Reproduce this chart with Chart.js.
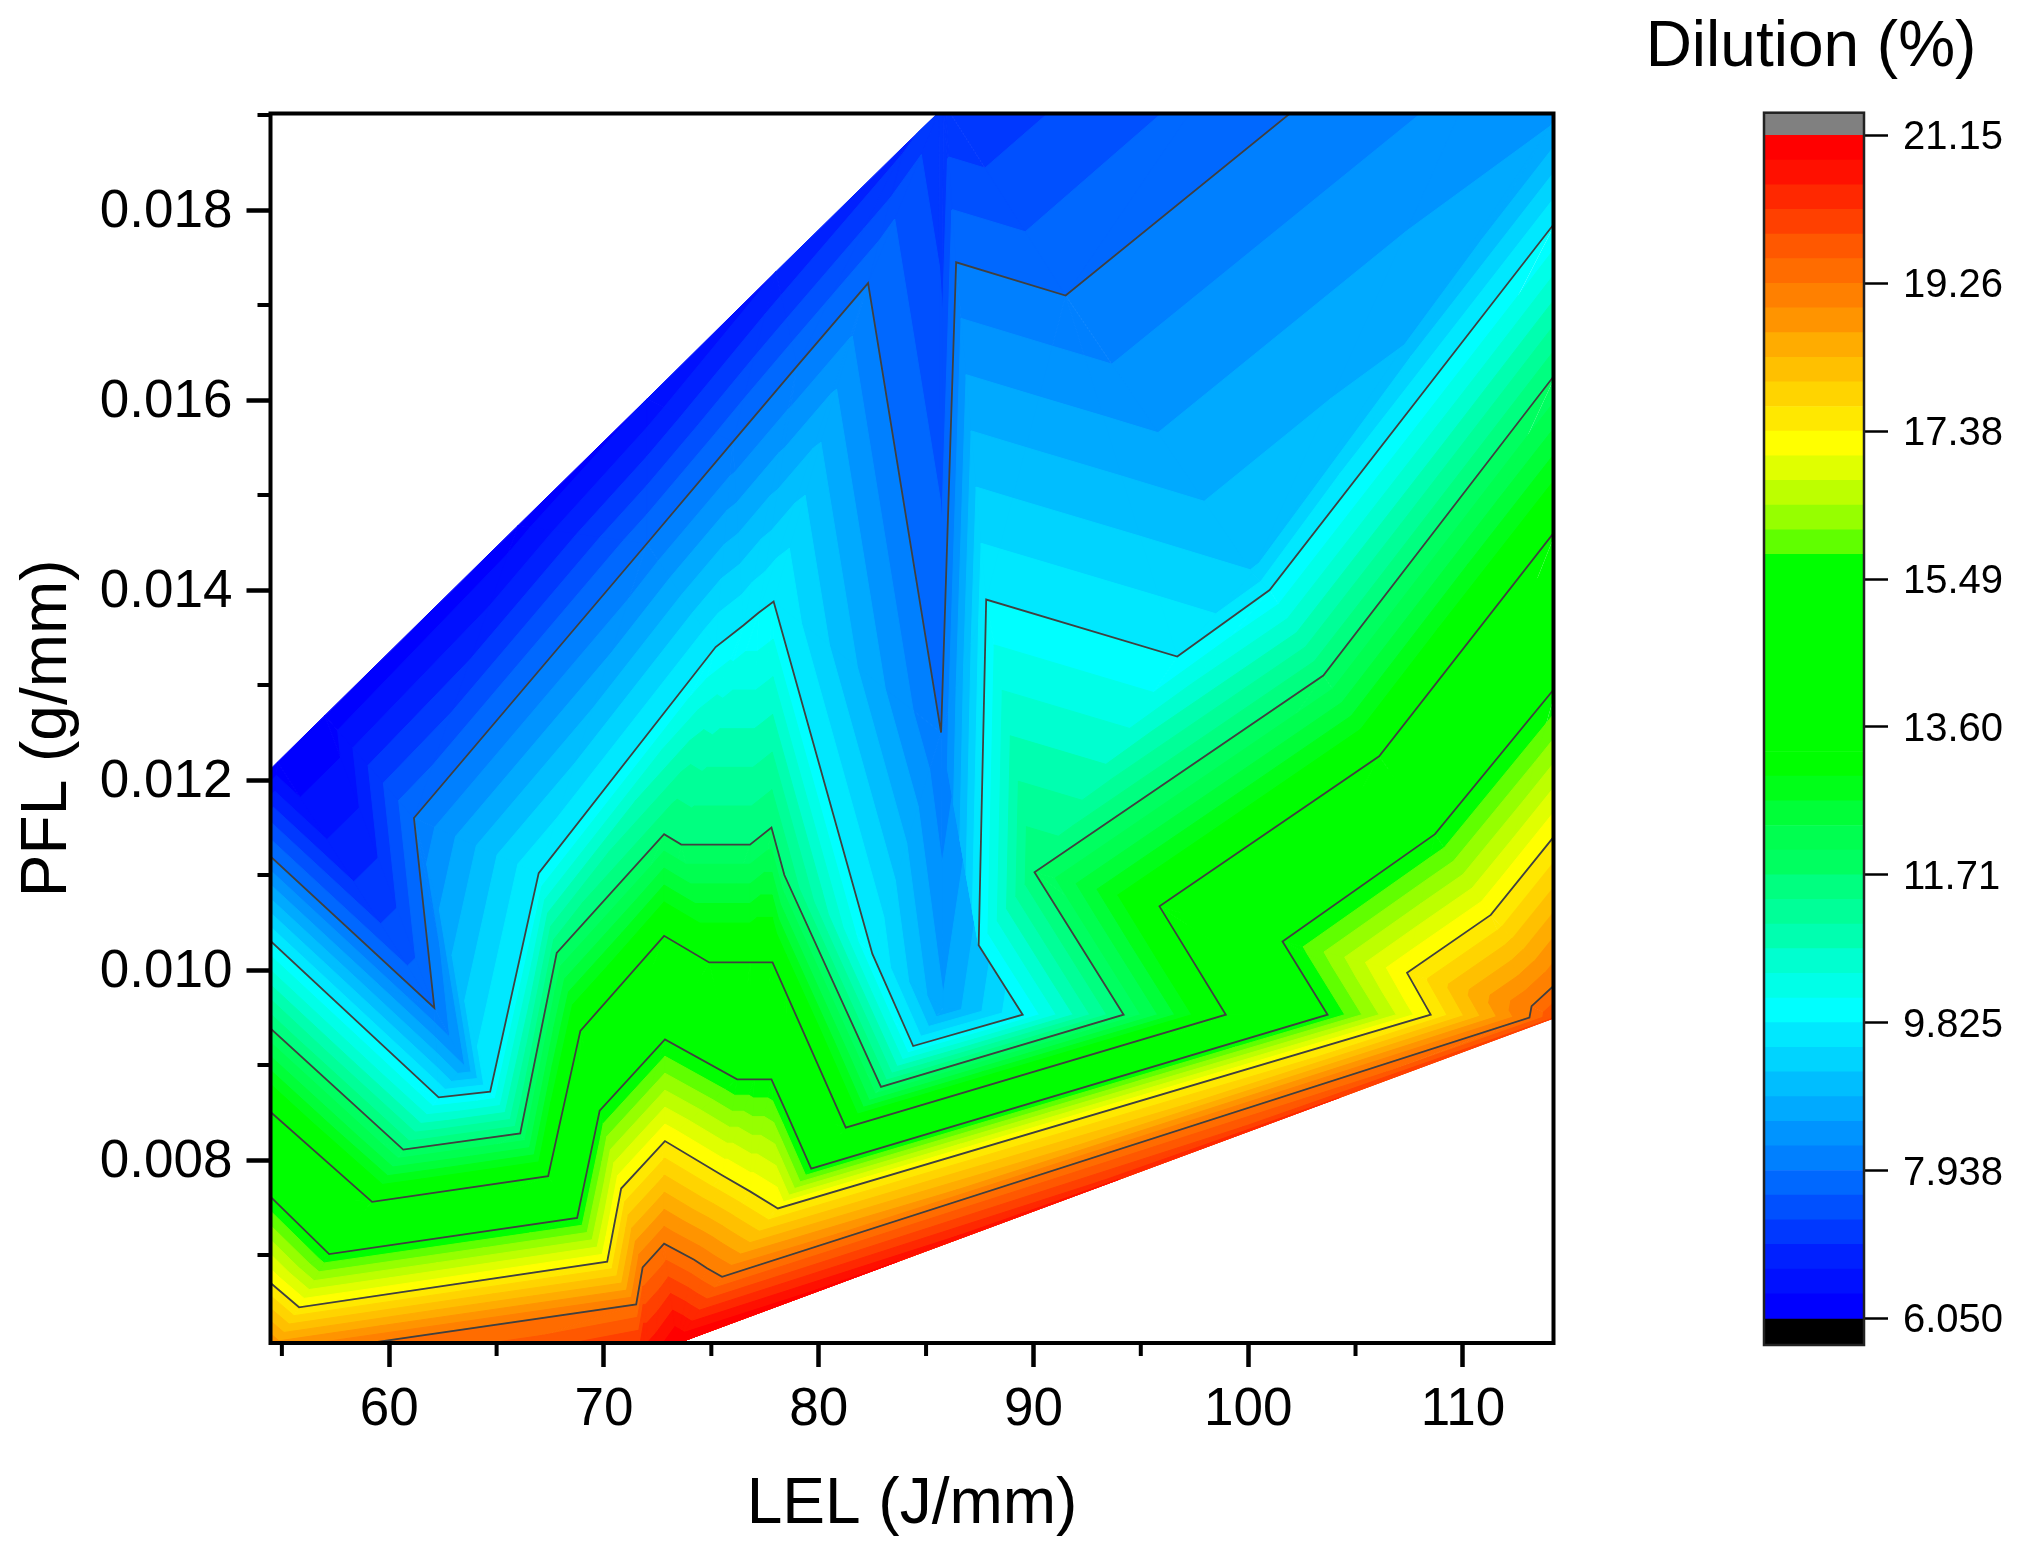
<!DOCTYPE html>
<html>
<head>
<meta charset="utf-8">
<title>Dilution contour</title>
<script src="https://cdn.jsdelivr.net/npm/chart.js@4"></script>
<style>
    body { margin: 0; background: #fff; }
    canvas { position: absolute; top: 0; }
    #contourChart { left: 0; }
    #scaleChart { left: 1599px; }
</style>
</head>
<body>
<canvas id="contourChart" width="1640" height="1554"></canvas>
<canvas id="scaleChart" width="424" height="1554"></canvas>
<script>
// Axis ticks
const lelTicks = [60, 70, 80, 90, 100, 110];
const lelMinorTicks = [55, 65, 75, 85, 95, 105];
const pflTicks = [0.008, 0.010, 0.012, 0.014, 0.016, 0.018];
const pflMinorTicks = [0.007, 0.009, 0.011, 0.013, 0.015, 0.017, 0.019];

// Colour scale (low to high)
const scaleTickValues = [6.05, 7.9375, 9.825, 11.7125, 13.6, 15.4875, 17.375, 19.2625, 21.15];
const scaleTickLabels = ["6.050", "7.938", "9.825", "11.71", "13.60", "15.49", "17.38", "19.26", "21.15"];
const bandColors = [
    "#0000ff", "#0010ff", "#0020ff", "#0038ff", "#0050ff", "#0068ff",
    "#0080ff", "#0094ff", "#00aaff", "#00beff", "#00d4ff", "#00e8ff",
    "#00ffff", "#00ffe8", "#00ffd0", "#00ffb0", "#00ff98", "#00ff80",
    "#00ff60", "#00ff50", "#00ff38", "#00ff18", "#00ff00", "#00ff00",
    "#00ff00", "#00ff00", "#00ff00", "#00ff00", "#00ff00", "#00ff00",
    "#00ff00", "#60ff00", "#96ff00", "#bdff00", "#e0ff00", "#ffff00",
    "#ffe800", "#ffd400", "#ffc000", "#ffac00", "#ff9400", "#ff8000",
    "#ff6c00", "#ff5800", "#ff4000", "#ff2800", "#ff1000", "#ff0000"
];

// Contour lines, vertex by vertex.
// Vertices with the same index belong to the same ridge of the surface.
const lelTop = [54.4, 54.8, 54.8, 57, 66, 72, 78, 84, 85.6, 85.6, 85.6, 85.6, 85.6, 85.8, 85.9, 85.9, 114.4];
const pflTop = [0.0121, 0.01219, 0.01219, 0.01268, 0.01468, 0.01601, 0.01735, 0.01868, 0.01903, 0.01903, 0.01903, 0.01903, 0.01903, 0.01907, 0.0191, 0.0191, 0.0247];
const dilTop = [6.1, 6.1, 6.1, 6.1, 6.2, 6.37, 6.68, 6.93, 7.1, 7.1, 7.1, 7.1, 7.1, 7, 7, 7, 7];

const lel7938 = [54.4, 62.1, 62.1, 61.15, 72, 76, 79, 82.3, 85.7, 85.7, 85.7, 85.7, 85.7, 86.4, 91.5, 91.5, 114.4];
const pfl7938 = [0.01121, 0.0096, 0.0096, 0.0116, 0.01449, 0.01556, 0.01636, 0.01723, 0.0125, 0.0125, 0.0125, 0.0125, 0.0125, 0.01745, 0.0171, 0.0171, 0.0213];

// Inner points below the 7.938 line, they follow that line everywhere else
const lelPocket = [54.4, 62.1, 63.5, 61.15, 72, 76, 79, 82.3, 85.7, 85.8, 85.8, 85.7, 85.7, 86.4, 91.5, 100.2, 114.4];
const pflPocket = [0.01121, 0.0096, 0.009, 0.0116, 0.01449, 0.01556, 0.01636, 0.01723, 0.0125, 0.0096, 0.0096, 0.0125, 0.0125, 0.01745, 0.0171, 0.01418, 0.019];
const dilPocket = [7.9375, 7.9375, 8.55, 7.9375, 7.9375, 7.9375, 7.9375, 7.9375, 7.9375, 8.6, 8.6, 7.9375, 7.9375, 7.9375, 7.9375, 9.21, 8.55];

const lel9825 = [54.4, 62.3, 64.7, 66.96, 75.2, 76.5, 77.2, 77.9, 82.5, 84.4, 89.5, 87.45, 87.8, 87.8, 96.7, 101, 114.4];
const pfl9825 = [0.01032, 0.00866, 0.00872, 0.01102, 0.0134, 0.01363, 0.01376, 0.01388, 0.01017, 0.0092, 0.00953, 0.01026, 0.0139, 0.0139, 0.0133, 0.014, 0.0179];

const lel1171 = [54.4, 60.65, 66.1, 67.8, 72.8, 73.6, 76.8, 77.8, 78.4, 82.9, 94.2, 90.05, 90.05, 90.05, 90.05, 103.5, 114.4];
const pfl1171 = [0.0094, 0.00811, 0.00828, 0.01018, 0.01143, 0.01132, 0.01132, 0.0115, 0.011, 0.00877, 0.00953, 0.01103, 0.01103, 0.01103, 0.01103, 0.0131, 0.0163];

const lel1360 = [54.4, 59.2, 67.4, 68.9, 72.8, 74.9, 76.8, 77.85, 78.5, 81.26, 98.96, 95.87, 95.87, 95.87, 95.87, 106.1, 114.4];
const pfl1360 = [0.00852, 0.00756, 0.00783, 0.00936, 0.01036, 0.01008, 0.01008, 0.01008, 0.00975, 0.00834, 0.00953, 0.01067, 0.01067, 0.01067, 0.01067, 0.01225, 0.01465];

const lel1549 = [54.4, 57.2, 68.75, 69.8, 72.84, 76.2, 77, 77.8, 78.4, 79.65, 103.7, 101.6, 101.6, 101.6, 101.6, 108.7, 114.4];
const pfl1549 = [0.00763, 0.00701, 0.00739, 0.00852, 0.00927, 0.00885, 0.00885, 0.00885, 0.00855, 0.00791, 0.00953, 0.0103, 0.0103, 0.0103, 0.0103, 0.01143, 0.013];

const lel1738 = [54.4, 55.8, 70.15, 70.8, 72.84, 75.5, 76.8, 78.1, 78.1, 78.1, 108.5, 107.4, 107.4, 107.4, 107.4, 111.3, 114.4];
const pfl1738 = [0.00672, 0.00645, 0.00693, 0.0077, 0.0082, 0.00784, 0.00767, 0.00749, 0.00749, 0.00749, 0.00953, 0.00997, 0.00997, 0.00997, 0.00997, 0.01058, 0.01145];

const lel1926 = [54.4, 54.4, 71.5, 71.8, 72.8, 74.2, 74.8, 75.5, 75.5, 75.5, 113.1, 113.2, 113.2, 113.2, 113.2, 114.3, 114.4];
const pfl1926 = [0.00592, 0.00592, 0.00648, 0.00687, 0.00712, 0.00695, 0.00686, 0.00677, 0.00677, 0.00677, 0.0095, 0.00962, 0.00962, 0.00962, 0.00962, 0.00985, 0.0099];

const lelBottom = [54.4, 54.4, 71.9, 72.2, 73.4, 73.4, 73.4, 73.4, 73.4, 73.4, 114.3, 114.3, 114.3, 114.3, 114.3, 114.3, 114.3];
const pflBottom = [0.0052, 0.0052, 0.0056, 0.0056, 0.00607, 0.00607, 0.00607, 0.00607, 0.00607, 0.00607, 0.0095, 0.0095, 0.0095, 0.0095, 0.0095, 0.0095, 0.0095];
const dilBottom = [20.5, 20.5, 21.3, 21.3, 21.15, 21.15, 21.15, 21.15, 21.15, 21.15, 19.9, 19.9, 19.9, 19.9, 19.9, 19.9, 19.9];

const contourLevels = [7.9375, 9.825, 11.7125, 13.6, 15.4875, 17.375, 19.2625];
const contourLel = [lel7938, lel9825, lel1171, lel1360, lel1549, lel1738, lel1926];
const contourPfl = [pfl7938, pfl9825, pfl1171, pfl1360, pfl1549, pfl1738, pfl1926];

const fontName = "'Liberation Sans', Arial, sans-serif";
Chart.defaults.font.family = fontName;
Chart.defaults.color = "#000";

function toVertices(lel, pfl, dil) {
    return lel.map((x, i) => ({ x: x, y: pfl[i], z: Array.isArray(dil) ? dil[i] : dil }));
}

// Mesh rows from the top boundary through the contour lines to the bottom boundary
function buildRows() {
    const rows = [toVertices(lelTop, pflTop, dilTop)];
    contourLevels.forEach((level, r) => {
        rows.push(toVertices(contourLel[r], contourPfl[r], level));
        if (r === 0) {
            rows.push(toVertices(lelPocket, pflPocket, dilPocket));
        }
    });
    rows.push(toVertices(lelBottom, pflBottom, dilBottom));
    return rows;
}

function buildTriangles(rows) {
    const triangles = [];
    for (let r = 0; r < rows.length - 1; r++) {
        for (let c = 0; c < rows[r].length - 1; c++) {
            const a = rows[r][c];
            const b = rows[r][c + 1];
            const d = rows[r + 1][c];
            const e = rows[r + 1][c + 1];
            [[a, b, d], [b, e, d]].forEach(t => {
                const area = (t[1].x - t[0].x) * (t[2].y - t[0].y) - (t[2].x - t[0].x) * (t[1].y - t[0].y);
                if (Math.abs(area) > 1e-9) {
                    triangles.push(t);
                }
            });
        }
    }
    return triangles;
}

// Part of a triangle where the surface is at or above the level
function clipAbove(triangle, level) {
    const out = [];
    for (let i = 0; i < 3; i++) {
        const p = triangle[i];
        const q = triangle[(i + 1) % 3];
        if (p.z >= level) {
            out.push({ x: p.x, y: p.y });
        }
        if ((p.z >= level) !== (q.z >= level)) {
            const t = (level - p.z) / (q.z - p.z);
            out.push({ x: p.x + t * (q.x - p.x), y: p.y + t * (q.y - p.y) });
        }
    }
    return out;
}

function buildBandDatasets(triangles) {
    const sets = [];
    const step = (21.15 - 6.05) / bandColors.length;
    bandColors.forEach((color, i) => {
        const low = 6.05 + i * step;
        const high = low + step;
        triangles.forEach(t => {
            const zs = t.map(p => p.z);
            if (Math.max(...zs) <= low || Math.min(...zs) >= high) {
                return;
            }
            const poly = clipAbove(t, low);
            if (poly.length < 3) {
                return;
            }
            poly.push(poly[0]);
            sets.push({
                data: poly,
                showLine: true,
                fill: "shape",
                backgroundColor: color,
                borderColor: color,
                borderWidth: 1,
                pointRadius: 0,
                tension: 0,
                clip: 0
            });
        });
    });
    return sets;
}

function buildContourDatasets() {
    return contourLel.map((lel, r) => ({
        data: lel.map((x, i) => ({ x: x, y: contourPfl[r][i] })),
        showLine: true,
        fill: false,
        borderColor: "#404040",
        borderWidth: 1.8,
        pointRadius: 0,
        tension: 0,
        clip: 0
    }));
}

// Frame and short ticks, Chart.js has one tick length per axis
const contourFrame = {
    id: "contourFrame",
    afterDraw(chart) {
        const { ctx, chartArea, scales } = chart;
        ctx.save();
        ctx.strokeStyle = "#000";
        ctx.lineWidth = 4;
        ctx.strokeRect(chartArea.left, chartArea.top, chartArea.right - chartArea.left, chartArea.bottom - chartArea.top);
        ctx.beginPath();
        lelMinorTicks.forEach(v => {
            const x = scales.x.getPixelForValue(v);
            ctx.moveTo(x, chartArea.bottom);
            ctx.lineTo(x, chartArea.bottom + 13);
        });
        pflMinorTicks.forEach(v => {
            const y = scales.y.getPixelForValue(v);
            ctx.moveTo(chartArea.left, y);
            ctx.lineTo(chartArea.left - 13, y);
        });
        ctx.stroke();
        ctx.restore();
    }
};

const scaleFrame = {
    id: "scaleFrame",
    afterDraw(chart) {
        const { ctx, chartArea } = chart;
        ctx.save();
        ctx.strokeStyle = "#222";
        ctx.lineWidth = 2.5;
        ctx.strokeRect(chartArea.left, chartArea.top, chartArea.right - chartArea.left, chartArea.bottom - chartArea.top);
        ctx.restore();
    }
};

const rows = buildRows();
const triangles = buildTriangles(rows);
const bandSets = buildBandDatasets(triangles);

// Chart.js paints the last dataset first
new Chart(document.getElementById("contourChart"), {
    type: "scatter",
    data: { datasets: buildContourDatasets().concat(bandSets.reverse()) },
    plugins: [contourFrame],
    options: {
        responsive: false,
        animation: false,
        parsing: false,
        normalized: true,
        events: [],
        layout: { autoPadding: false, padding: { top: 113.5, right: 86.5, left: 0, bottom: 0 } },
        plugins: { legend: { display: false }, tooltip: { enabled: false } },
        scales: {
            x: {
                type: "linear",
                min: 54.47,
                max: 114.22,
                afterBuildTicks: axis => { axis.ticks = lelTicks.map(v => ({ value: v })); },
                afterFit: axis => { axis.height = 211; },
                grid: { drawOnChartArea: false, tickLength: 24, tickWidth: 4.5, tickColor: "#000" },
                border: { display: false },
                ticks: { font: { size: 53 }, padding: 12, maxRotation: 0, autoSkip: false, callback: v => String(v) },
                title: { display: true, text: "LEL (J/mm)", font: { size: 64 }, padding: { top: 0, bottom: 10 } }
            },
            y: {
                type: "linear",
                min: 0.006074,
                max: 0.019016,
                afterBuildTicks: axis => { axis.ticks = pflTicks.map(v => ({ value: v })); },
                afterFit: axis => { axis.width = 270.5; },
                grid: { drawOnChartArea: false, tickLength: 24, tickWidth: 4.5, tickColor: "#000" },
                border: { display: false },
                ticks: { font: { size: 53 }, padding: 14, labelOffset: 2, autoSkip: false, callback: v => v.toFixed(3) },
                title: { display: true, text: "PFL (g/mm)", font: { size: 64 }, padding: { top: 10, bottom: 0 } }
            }
        }
    }
});

// Colour scale, one floating bar per band, plus the under and over range ends
const scaleBottom = 5.71;
const scaleTop = 21.44;
const scaleStep = (21.15 - 6.05) / bandColors.length;
const scaleSets = bandColors.map((color, i) => ({
    data: [[6.05 + i * scaleStep, 6.05 + (i + 1) * scaleStep]],
    backgroundColor: color,
    grouped: false,
    barPercentage: 1,
    categoryPercentage: 1,
    yAxisID: "y"
}));
scaleSets.push({ data: [[scaleBottom, 6.05]], backgroundColor: "#000", grouped: false, barPercentage: 1, categoryPercentage: 1, yAxisID: "y" });
scaleSets.push({ data: [[21.15, scaleTop]], backgroundColor: "#808080", grouped: false, barPercentage: 1, categoryPercentage: 1, yAxisID: "y" });

new Chart(document.getElementById("scaleChart"), {
    type: "bar",
    data: { labels: ["Dilution"], datasets: scaleSets },
    plugins: [scaleFrame],
    options: {
        responsive: false,
        animation: false,
        events: [],
        layout: { autoPadding: false, padding: { top: 0, bottom: 209, left: 0, right: 0 } },
        plugins: {
            legend: { display: false },
            tooltip: { enabled: false },
            title: {
                display: true,
                text: "Dilution (%)",
                color: "#000",
                font: { size: 64, weight: "normal", lineHeight: 1 },
                padding: { top: 16, bottom: 32.7 }
            }
        },
        scales: {
            x: { display: false },
            y: {
                position: "right",
                min: scaleBottom,
                max: scaleTop,
                afterBuildTicks: axis => { axis.ticks = scaleTickValues.map(v => ({ value: v })); },
                afterFit: axis => { axis.width = 159; },
                grid: { drawOnChartArea: false, tickLength: 24, tickWidth: 2.5, tickColor: "#000" },
                border: { display: false },
                ticks: {
                    font: { size: 40 },
                    padding: 15,
                    labelOffset: 3,
                    autoSkip: false,
                    callback: (v, i) => scaleTickLabels[i]
                }
            },
            // empty axis that only holds the space left of the bar
            leftSpace: {
                position: "left",
                grid: { display: false },
                border: { display: false },
                ticks: { display: false },
                afterFit: axis => { axis.width = 165; }
            }
        }
    }
});
</script>
</body>
</html>
